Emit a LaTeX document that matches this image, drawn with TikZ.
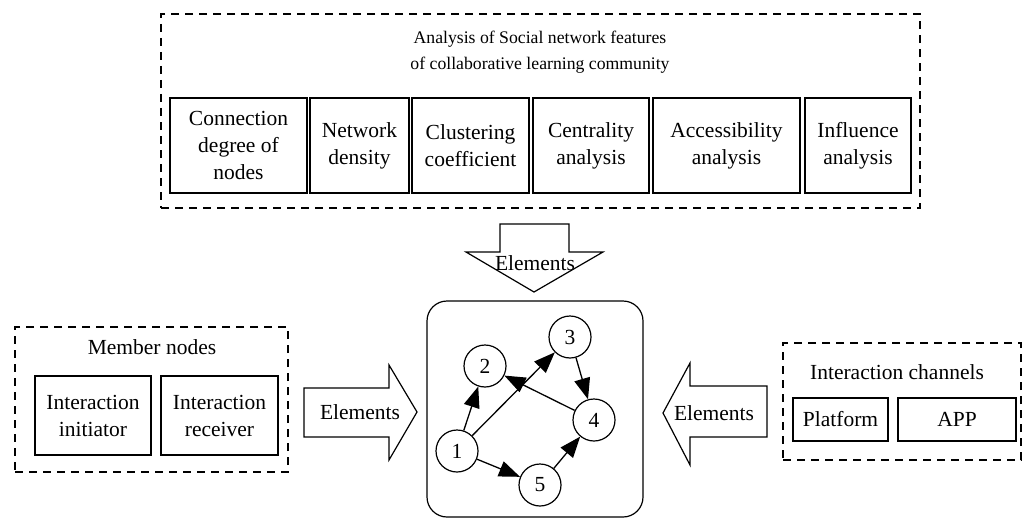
\documentclass[tikz,border=0pt]{standalone}
\usepackage{fontspec}
\setmainfont{Liberation Serif}
\usetikzlibrary{arrows.meta}

\begin{document}
\begin{tikzpicture}[x=1pt,y=-1pt,
txt/.style={font=\fontsize{21.5}{27}\selectfont,align=center,inner sep=0pt},
box/.style={draw,line width=1.3pt,txt,minimum height=95pt},
group/.style={draw,line width=1.4pt,dash pattern=on 8pt off 6pt,inner sep=0pt},
vert/.style={draw,circle,line width=1.2pt,minimum size=42pt,txt},
link/.style={-{Triangle[length=21pt,width=16pt]},line width=1.3pt},
block/.style={draw,line width=1.2pt,line join=miter}]
\useasboundingbox (0,0) rectangle (1030,519);
% features of the community
\node[group,minimum width=759pt,minimum height=194pt] (feat) at (540.5,111) {};
\node[txt,font=\fontsize{17.7}{26}\selectfont] (title) at (540,52) {Analysis of Social network features\\of collaborative learning community};
\node[box,minimum width=137pt] (deg) at (238.5,145.5) {Connection\\degree of\\nodes};
\node[box,minimum width=99pt] (dens) at (359.5,145.5) {Network\\density};
\node[box,minimum width=117pt] (clus) at (470.5,145.5) {Clustering\\coefficient};
\node[box,minimum width=116pt] (cent) at (591,145.5) {Centrality\\analysis};
\node[box,minimum width=147pt] (acc) at (726.5,145.5) {Accessibility\\analysis};
\node[box,minimum width=106pt] (infl) at (858,145.5) {Influence\\analysis};
% member nodes
\node[group,minimum width=273pt,minimum height=145pt] (members) at (151.5,399.5) {};
\node[txt] (memt) at (152,347) {Member nodes};
\node[box,minimum width=116pt,minimum height=79pt] (init) at (93,415.5) {Interaction\\initiator};
\node[box,minimum width=117pt,minimum height=79pt] (recv) at (219.5,415.5) {Interaction\\receiver};
% interaction channels
\node[group,minimum width=238pt,minimum height=117pt] (chan) at (902,401.5) {};
\node[txt] (chant) at (897,372) {Interaction channels};
\node[box,minimum width=95pt,minimum height=43pt] (plat) at (840.5,419.5) {Platform};
\node[box,minimum width=118pt,minimum height=43pt] (app) at (957,419.5) {APP};
% network
\node[draw,line width=1.2pt,rounded corners=20pt,minimum width=216pt,minimum height=216pt] (net) at (535,409) {};
\node[vert] (v1) at (457,451) {1};
\node[vert] (v2) at (485,366) {2};
\node[vert] (v3) at (570,337) {3};
\node[vert] (v4) at (594,420) {4};
\node[vert] (v5) at (540,485) {5};
\draw[link] (v1) -- (v2); \draw[link] (v1) -- (v3);
\draw[link] (v4) -- (v2); \draw[link] (v3) -- (v4);
\draw[link] (v1) -- (v5); \draw[link] (v5) -- (v4);
% block arrows
\draw[block] (500,224) -- (569,224) -- (569,252) -- (603,252) -- (534,292) -- (466,252) -- (500,252) -- cycle;
\node[txt] (elTop) at (535,263) {Elements};
\draw[block] (304,388) -- (389,388) -- (389,365) -- (417,412) -- (389,460) -- (389,437) -- (304,437) -- cycle;
\node[txt] (elLeft) at (360,412) {Elements};
\draw[block] (767,386) -- (690,386) -- (690,363) -- (663,413) -- (690,465) -- (690,437) -- (767,437) -- cycle;
\node[txt] (elRight) at (714,413) {Elements};
\end{tikzpicture}
\end{document}
